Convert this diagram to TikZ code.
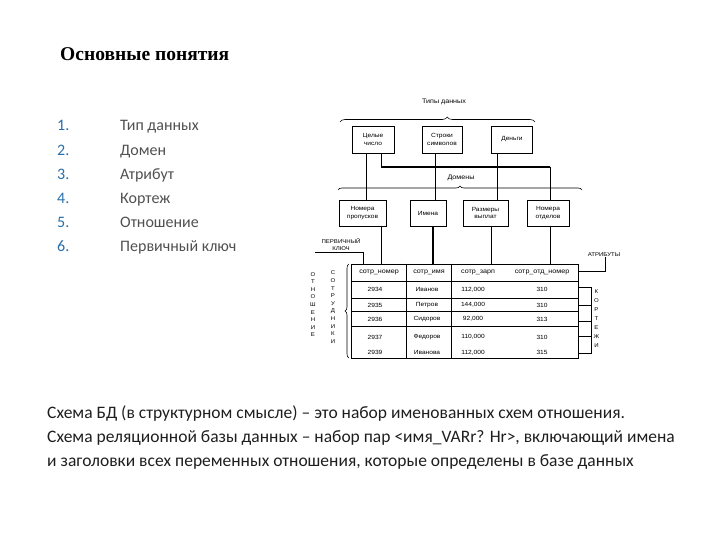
\documentclass[tikz,border=0pt]{standalone}
\usepackage{fontspec}
\setmainfont{Carlito}
\newfontfamily\titlefont{Liberation Serif}
\newfontfamily\diagfont[FakeStretch=1.1]{Liberation Sans}
\usetikzlibrary{decorations.pathreplacing}
\definecolor{listblue}{RGB}{40,110,170}
\definecolor{listgrey}{RGB}{80,80,80}
\definecolor{notegrey}{RGB}{30,30,30}

\begin{document}
\begin{tikzpicture}[x=1pt,y=-1pt,
  box/.style={draw, line width=0.6pt, font=\diagfont\fontsize{6}{7.5}\selectfont, align=center, inner sep=0pt, minimum height=27pt},
  link/.style={line width=0.6pt},
  heavy/.style={line width=1.4pt},
  cell/.style={font=\diagfont\fontsize{6}{7}\selectfont, inner sep=0pt},
  tag/.style={font=\diagfont\fontsize{5.5}{7}\selectfont, inner sep=0pt, align=center},
  item/.style={anchor=base west, font=\fontsize{16}{19}\selectfont, text=listgrey, inner sep=0pt},
  note/.style={anchor=base west, font=\fontsize{17.5}{21}\selectfont, text=notegrey, inner sep=0pt}]
\useasboundingbox (0,0) rectangle (720,540);

% title and list
\node[anchor=base west, inner sep=0pt, font=\titlefont\bfseries\fontsize{19.5}{23}\selectfont] (title) at (60,61) {Основные понятия};
\foreach \txt [count=\i] in {Тип данных, Домен, Атрибут, Кортеж, Отношение, Первичный ключ} {
  \node[item, text=listblue] (num\i) at (57,{131+24.1*(\i-1)}) {\i.};
  \node[item] (item\i) at (120,{131+24.1*(\i-1)}) {\txt};
}

% data types
\node[tag, font=\diagfont\fontsize{6.5}{8}\selectfont] (typesLbl) at (444,102) {Типы данных};
\draw[link, decorate, decoration={brace, amplitude=5pt, aspect=0.55}] (340,122) -- (535,122);
\node[box, minimum width=42pt] (tInt) at (373,139.5) {Целые\\число};
\node[box, minimum width=40pt] (tStr) at (442,139.5) {Строки\\символов};
\node[box, minimum width=41pt] (tMoney) at (512,139.5) {Деньги};

% domains
\node[tag, font=\diagfont\fontsize{6.5}{8}\selectfont] (domLbl) at (461,178) {Домены};
\draw[link, decorate, decoration={brace, amplitude=4pt, aspect=0.5}] (338,190) -- (582,190);
\node[box, minimum width=47pt, minimum height=26pt] (dPass) at (362.5,213) {Номера\\пропусков};
\node[box, minimum width=36pt, minimum height=26pt] (dNames) at (428,213) {Имена};
\node[box, minimum width=45pt, minimum height=26pt] (dPay) at (485.5,213) {Размеры\\выплат};
\node[box, minimum width=42pt, minimum height=26pt] (dDept) at (548,213) {Номера\\отделов};

\draw[link] ([xshift=-7pt]tInt.south) -- ([xshift=-7pt]tInt.south |- dPass.north);
\coordinate (turn) at (550,167);
\draw[heavy] ([xshift=8.7pt]tInt.south) |- (turn);
\draw[link] (turn) -- (turn |- dDept.north);
\draw[link] ([xshift=-7pt]tStr.south) -- ([xshift=-7pt]tStr.south |- dNames.north);
\draw[link] ([xshift=-15pt]tMoney.south) -- ([xshift=-15pt]tMoney.south |- dPay.north);

% relation
\node[draw, line width=0.9pt, minimum width=226.6pt, minimum height=94pt, inner sep=0pt] (rel) at (465,311) {};
\draw[heavy] ([xshift=19.2pt]dPass.south) -- ([xshift=19.2pt]dPass.south |- rel.north);
\draw[heavy] ([xshift=5pt]dNames.south) -- ([xshift=5pt]dNames.south |- rel.north);
\draw[heavy] ([xshift=6pt]dPay.south) -- ([xshift=6pt]dPay.south |- rel.north);
\draw[heavy] ([xshift=2.7pt]dDept.south) -- ([xshift=2.7pt]dDept.south |- rel.north);

\draw[line width=0.6pt] (rel.west |- 0,281) -- (rel.east |- 0,281);
\draw[line width=0.4pt] (rel.west |- 0,298) -- (rel.east |- 0,298);
\draw[line width=0.4pt] (rel.west |- 0,311.5) -- (rel.east |- 0,311.5);
\draw[line width=0.8pt] (rel.west |- 0,326.5) -- (rel.east |- 0,326.5);
\draw[line width=0.5pt] (406.5,0 |- rel.north) -- (406.5,0 |- rel.south);
\draw[line width=0.5pt] (451.5,0 |- rel.north) -- (451.5,0 |- rel.south);

\node[cell, font=\diagfont\fontsize{6.5}{7}\selectfont] (hNum) at (379,272.5) {сотр\_номер};
\node[cell, font=\diagfont\fontsize{6.5}{7}\selectfont] (hName) at (429,272.5) {сотр\_имя};
\node[cell, font=\diagfont\fontsize{6.5}{7}\selectfont] (hPay) at (478,272.5) {сотр\_зарп};
\node[cell, font=\diagfont\fontsize{6.5}{7}\selectfont] (hDept) at (542,272.5) {сотр\_отд\_номер};
\foreach \y/\num/\who/\pay/\dep [count=\r] in {289.5/2934/Иванов/{112,000}/310, 305/2935/Петров/{144,000}/310, 319/2936/Сидоров/{92,000}/313, 337/2937/Федоров/{110,000}/310, 352.5/2939/Иванова/{112,000}/315} {
  \node[cell] (num\r) at (375,\y) {\num};
  \node[cell] (who\r) at (427,\y) {\who};
  \node[cell] (pay\r) at (473,\y) {\pay};
  \node[cell] (dep\r) at (542,\y) {\dep};
}

% primary key
\node[tag] (pkLbl) at (341,244.5) {ПЕРВИЧНЫЙ\\КЛЮЧ};
\coordinate (pkStart) at (315,252.7);
\draw[link] (pkStart) -| ([xshift=12.3pt]rel.north west);

% attributes
\node[tag] (attrLbl) at (604,255) {АТРИБУТЫ};
\draw[link] ([xshift=1pt]attrLbl.south) |- (rel.east |- 0,271.7);

% tuples
\coordinate (tupTop) at (591.7,287);
\coordinate (tupBot) at (591.7,353);
\draw[link] (rel.east |- tupTop) -- (tupTop) -- (tupBot) -- (rel.east |- tupBot);
\foreach \y in {305.5,321,336.5}
  \draw[link] (rel.east |- 0,\y) -- (591.7,\y);
\node[tag, font=\diagfont\fontsize{5.5}{9}\selectfont] (tupLbl) at (596.5,319) {К\\О\\Р\\Т\\Е\\Ж\\И};

% relation name
\draw[link, decorate, decoration={brace, amplitude=4pt}] (349,358) -- (349,264);
\node[tag, font=\diagfont\fontsize{5.5}{7.6}\selectfont] (relLbl) at (313,304.5) {О\\Т\\Н\\О\\Ш\\Е\\Н\\И\\Е};
\node[tag, font=\diagfont\fontsize{5.5}{7.6}\selectfont] (empLbl) at (333,307.2) {С\\О\\Т\\Р\\У\\Д\\Н\\И\\К\\И};

% notes
\node[note] (note1) at (47,418) {Схема БД (в структурном смысле) – это набор именованных схем отношения.};
\node[note] (note2) at (47,442) {Схема реляционной базы данных – набор пар <имя\_VARr? Hr>, включающий имена};
\node[note] (note3) at (47,466) {и заголовки всех переменных отношения, которые определены в базе данных};
\end{tikzpicture}
\end{document}
